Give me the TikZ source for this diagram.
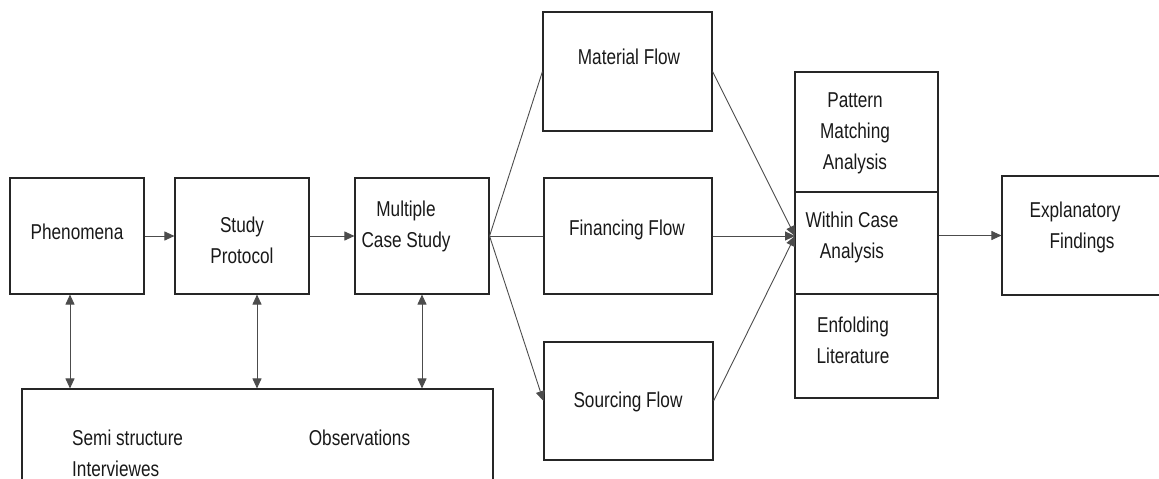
\documentclass[tikz,border=0pt]{standalone}
\usepackage{fontspec}
\setmainfont[FakeStretch=0.80]{Liberation Sans}
\usetikzlibrary{arrows.meta,calc}
\begin{document}
\begin{tikzpicture}[x=1pt,y=-1pt,
  box/.style={draw=black!85,line width=1.1pt,inner sep=0pt,anchor=center},
  lbl/.style={font=\fontsize{21.5}{31}\selectfont,text=black!90,align=center,inner sep=0pt},
  conn/.style={draw=black!70,line width=0.9pt},
  arr/.style={conn,-{Triangle[length=10pt,width=9pt]}},
  darr/.style={conn,{Triangle[length=10pt,width=9pt]}-{Triangle[length=10pt,width=9pt]}}]
\useasboundingbox (0,0) rectangle (1159,479);
% boxes
\node[box,minimum width=134pt,minimum height=116pt] (phen) at (77,236) {};
\node[box,minimum width=134pt,minimum height=116pt] (stud) at (242,236) {};
\node[box,minimum width=134pt,minimum height=116pt] (mcs) at (422,236) {};
\node[box,minimum width=471pt,minimum height=111pt] (bot) at (257.5,444.5) {};
\node[box,minimum width=169pt,minimum height=119pt] (mat) at (627.5,71.5) {};
\node[box,minimum width=168pt,minimum height=116pt] (fin) at (628,236) {};
\node[box,minimum width=169pt,minimum height=118pt] (src) at (628.5,401) {};
\node[box,minimum width=143pt,minimum height=120pt] (pat) at (866.5,132) {};
\node[box,minimum width=143pt,minimum height=102pt] (within) at (866.5,243) {};
\node[box,minimum width=143pt,minimum height=104pt] (enf) at (866.5,346) {};
\node[box,minimum width=178pt,minimum height=119pt] (expl) at (1091,235.5) {};
% labels
\node[lbl] (tphen) at (77,232) {Phenomena};
\node[lbl] (tstud) at (242,240) {Study\\Protocol};
\node[lbl] (tmcs) at (406,226) {Multiple\\Case Study};
\node[lbl] (tmat) at (629,57) {Material Flow};
\node[lbl] (tfin) at (627,230) {Financing Flow};
\node[lbl] (tsrc) at (628,402) {Sourcing Flow};
\node[lbl] (tpat) at (855,133) {Pattern\\Matching\\Analysis};
\node[lbl] (twithin) at (852,237) {Within Case\\Analysis};
\node[lbl] (tenf) at (853,340) {Enfolding\\Literature};
\node[lbl] (texpl) at (1075,227) {Explanatory\\\hspace*{14pt}Findings};
\node[lbl,align=left,anchor=west] (tsemi) at (72,453) {Semi structure\\Interviewes};
\node[lbl] (tobs) at (359.5,438) {Observations};
% connectors
\coordinate (conv) at (795,236);
\draw[arr] (phen.east) -- (stud.west);
\draw[arr] (stud.east) -- (mcs.west);
\draw[conn] (mcs.east) -- (mat.west);
\draw[conn] (mcs.east) -- (fin.west);
\draw[arr] (mcs.east) -- (src.west);
\draw[arr] (mat.east) -- (conv);
\draw[arr] (fin.east) -- (conv);
\draw[arr] (src.east) -- (conv);
\draw[arr] (within.east |- expl.west) -- (expl.west);
\draw[darr] ([xshift=-7pt]phen.south) -- ([xshift=-7pt]phen.south |- bot.north);
\draw[darr] ([xshift=15pt]stud.south) -- ([xshift=15pt]stud.south |- bot.north);
\draw[darr] (mcs.south) -- (mcs.south |- bot.north);
\end{tikzpicture}
\end{document}
